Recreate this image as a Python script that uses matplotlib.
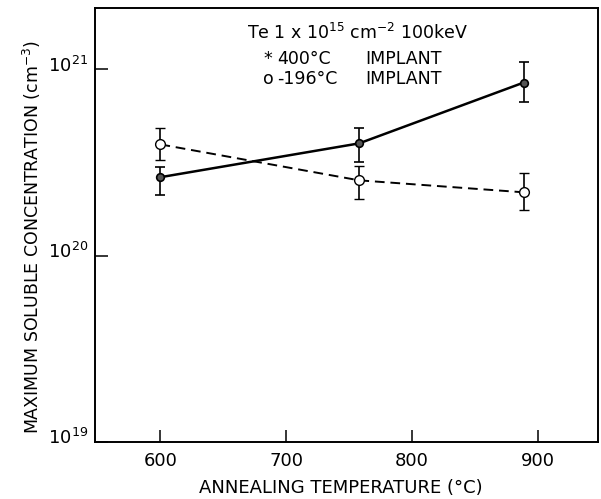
import numpy as np
import matplotlib
matplotlib.use('Agg')
import matplotlib.pyplot as plt
from matplotlib.transforms import ScaledTranslation

# annealing temperatures (C)
temps = [600, 758, 889]

# 400C implant (solid line)
hot_conc = [2.64e20, 4.01e20, 8.51e20]
hot_hi = [2.99e20, 4.83e20, 1.09e21]
hot_lo = [2.11e20, 3.17e20, 6.73e20]

# -196C implant (dashed line)
cold_conc = [3.96e20, 2.54e20, 2.19e20]
cold_hi = [4.83e20, 3.02e20, 2.77e20]
cold_lo = [3.25e20, 2.01e20, 1.75e20]

x_ticks = [600, 700, 800, 900]
y_ticks = [1e19, 1e20, 1e21]
y_tick_labels = [r'$10^{19}$', r'$10^{20}$', r'$10^{21}$']

plt.rcParams['font.family'] = ['DejaVu Sans']
plt.rcParams['mathtext.fontset'] = 'dejavusans'

fig = plt.figure(figsize=(6.01, 4.99), dpi=100)
W, H = 601, 499
ax = fig.add_axes([95 / W, 1 - 442 / H, (598 - 95) / W, (442 - 8) / H])

def err(c, lo, hi):
    c = np.array(c)
    return [c - np.array(lo), np.array(hi) - c]

ax.errorbar(temps, hot_conc, yerr=err(hot_conc, hot_lo, hot_hi), color='black',
            lw=1.8, ls='-', marker='o', ms=5.5, mfc='#555555', mec='black', mew=1.2,
            elinewidth=1.2, capsize=3.5, capthick=1.2)
ax.errorbar(temps, cold_conc, yerr=err(cold_conc, cold_lo, cold_hi), color='black',
            lw=1.4, ls=(0, (5, 3)), marker='o', ms=7, mfc='white', mec='black', mew=1.0,
            elinewidth=1.2, capsize=3.5, capthick=1.2)

ax.set_yscale('log')
ax.set_xlim(548, 948)
ax.set_ylim(1e19, 10 ** 21.33)
ax.set_xticks(x_ticks)
ax.set_yticks(y_ticks)
ax.set_yticklabels(y_tick_labels)
ax.minorticks_off()
ax.tick_params(direction='in', length=9, width=1.1, labelsize=13, pad=7)
ax.tick_params(axis='y', pad=5)
for lbl in ax.get_yticklabels():
    lbl.set_transform(lbl.get_transform() + ScaledTranslation(0, 4 / 72, fig.dpi_scale_trans))
for s in ax.spines.values():
    s.set_linewidth(1.4)

fig.text(341 / W, 1 - 488 / H, 'ANNEALING TEMPERATURE (°C)', ha='center', va='center', fontsize=13)
fig.text(32 / W, 1 - 237 / H, r'MAXIMUM SOLUBLE CONCENTRATION (cm$^{-3}$)', ha='center',
         va='center', rotation=90, fontsize=12.5)

tr = fig.transFigure
ax.text(247 / W, 1 - 33 / H, r'Te 1 x 10$^{15}$ cm$^{-2}$ 100keV', transform=tr,
        ha='left', va='center', fontsize=12.5)
ax.text(268 / W, 1 - 59 / H, '*', transform=tr, ha='center', va='center', fontsize=12.5)
ax.text(277 / W, 1 - 59 / H, '400°C', transform=tr, ha='left', va='center', fontsize=12.5)
ax.text(365 / W, 1 - 59 / H, 'IMPLANT', transform=tr, ha='left', va='center', fontsize=12.5)
ax.text(268 / W, 1 - 79 / H, 'o', transform=tr, ha='center', va='center', fontsize=12.5)
ax.text(277 / W, 1 - 79 / H, '-196°C', transform=tr, ha='left', va='center', fontsize=12.5)
ax.text(365 / W, 1 - 79 / H, 'IMPLANT', transform=tr, ha='left', va='center', fontsize=12.5)

fig.savefig('out.png', dpi=100)
